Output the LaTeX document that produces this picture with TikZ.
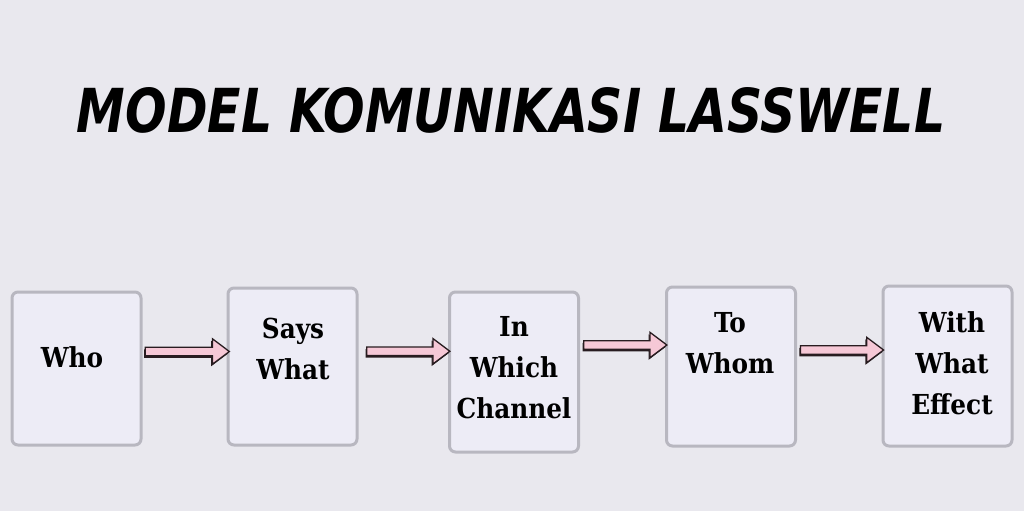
\documentclass[tikz,border=0pt]{standalone}
\usepackage{fontspec}
\usepackage{graphicx}
\setmainfont{DejaVu Serif Condensed}
\newfontfamily\titlefont{DejaVu Sans Condensed}
\usetikzlibrary{shapes.arrows,shadows,calc}
\definecolor{bgcol}{RGB}{233,232,238}
\definecolor{boxfill}{RGB}{237,236,246}
\definecolor{boxline}{RGB}{184,183,192}
\definecolor{arrpink}{RGB}{246,200,214}
\definecolor{arrdark}{RGB}{40,28,32}
\tikzset{
  stagebox/.style={draw=boxline, fill=boxfill, line width=3pt, rounded corners=6pt,
    minimum width=129pt, inner sep=0pt},
  stagetext/.style={font=\bfseries\fontsize{27.5}{41}\selectfont, align=center, text=black},
  flowarrow/.style={single arrow, draw=arrdark, fill=arrpink, line width=1.3pt,
    inner sep=3.6pt, single arrow head extend=8.5pt, single arrow tip angle=74,
    minimum height=84pt,
    drop shadow={shadow xshift=-1.3pt, shadow yshift=-2pt, fill=arrdark, opacity=1}}
}
\begin{document}
\begin{tikzpicture}[x=1pt,y=-1pt]
\fill[bgcol] (0,0) rectangle (1024,511);
\useasboundingbox (0,0) rectangle (1024,511);
% title
\node (title) at (511,110) {\resizebox{868pt}{45pt}{\titlefont\bfseries\itshape MODEL KOMUNIKASI LASSWELL}};
% boxes
\node[stagebox, minimum height=153pt] (b1) at (76.5,368.5) {};
\node[stagebox, minimum height=157pt] (b2) at (292.5,366.5) {};
\node[stagebox, minimum height=160pt] (b3) at (514,372) {};
\node[stagebox, minimum height=159pt] (b4) at (731,366.5) {};
\node[stagebox, minimum height=160pt] (b5) at (947.5,366) {};
% texts
\node[stagetext] (t1) at (72,357) {Who};
\node[stagetext] (t2) at (293,349) {Says\\What};
\node[stagetext] (t3) at (514,368) {In\\Which\\Channel};
\node[stagetext] (t4) at (730,343) {To\\Whom};
\node[stagetext] (t5) at (952,363) {With\\What\\Effect};
% arrows
\coordinate (a1s) at ($(b1.east)+(1.5,-17)$);
\coordinate (a1e) at ($(b2.west)+(-1.5,-15)$);
\coordinate (a2s) at ($(b2.east)+(6,-15)$);
\coordinate (a2e) at ($(b3.west)+(-1.5,-21)$);
\coordinate (a3s) at ($(b3.east)+(1.5,-27)$);
\coordinate (a3e) at ($(b4.west)+(-1.5,-21.5)$);
\coordinate (a4s) at ($(b4.east)+(1.5,-16.5)$);
\coordinate (a4e) at ($(b5.west)+(-1.5,-16)$);
\path (a1s) -- (a1e) node[midway, flowarrow, minimum height=84pt] (f1) {};
\path (a2s) -- (a2e) node[midway, flowarrow, minimum height=83pt] (f2) {};
\path (a3s) -- (a3e) node[midway, flowarrow, minimum height=83pt] (f3) {};
\path (a4s) -- (a4e) node[midway, flowarrow, minimum height=83pt] (f4) {};
\end{tikzpicture}
\end{document}
